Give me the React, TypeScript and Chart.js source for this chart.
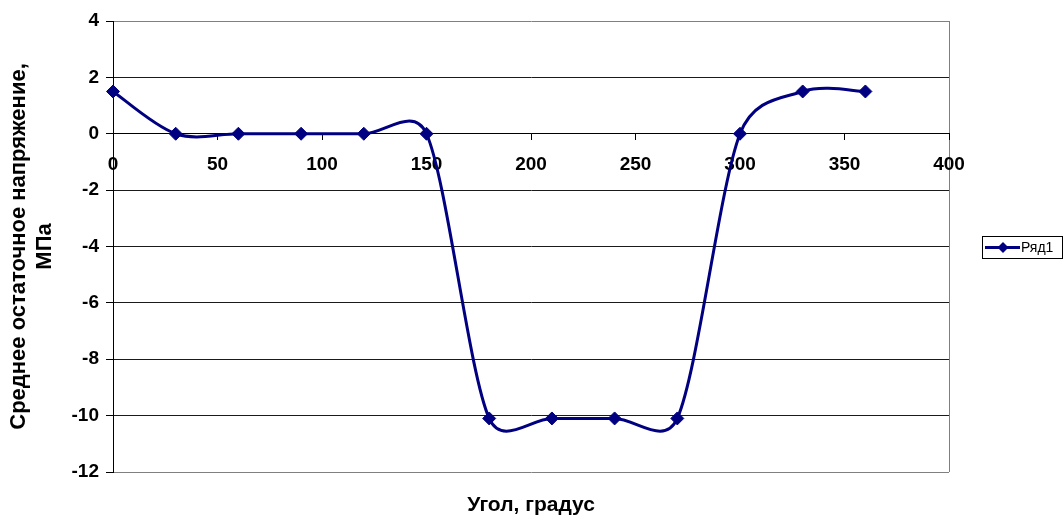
import React, { useEffect, useRef } from 'react';
import { Chart, registerables } from 'chart.js';

Chart.register(...registerables);

const angles = [0, 30, 60, 90, 120, 150, 180, 210, 240, 270, 300, 330, 360];
const stress = [1.5, 0, 0, 0, 0, 0, -10.1, -10.1, -10.1, -10.1, 0, 1.5, 1.5];
const seriesName = 'Ряд1';
const xTitle = 'Угол, градус';
const yTitle = ['Среднее остаточное напряжение,', 'МПа'];
const xRange = [0, 400];
const xStep = 50;
const yRange = [-12, 4];
const yStep = 2;

const FONT = "'Liberation Sans', Arial, sans-serif";
const NAVY = '#000080';

// Excel-style smoothing: Bezier control arms of 1/6 of the neighbour chord,
// limited to half of the adjacent segment length (computed on library pixels).
const excelSmoothPlugin = {
  id: 'excelSmooth',
  beforeDatasetDraw(chart: any, args: any) {
    const meta = args.meta;
    const pts = meta.data || [];
    const n = pts.length;
    for (let i = 0; i < n; i++) {
      const p = pts[i];
      const prev = pts[Math.max(i - 1, 0)];
      const next = pts[Math.min(i + 1, n - 1)];
      const dx = next.x - prev.x;
      const dy = next.y - prev.y;
      const d02 = Math.hypot(dx, dy);
      if (d02 === 0) {
        p.cp1x = p.x; p.cp1y = p.y; p.cp2x = p.x; p.cp2y = p.y;
        continue;
      }
      const dPrev = Math.hypot(p.x - prev.x, p.y - prev.y);
      const dNext = Math.hypot(next.x - p.x, next.y - p.y);
      const fIn = Math.min(1 / 6, dPrev / (2 * d02));
      const fOut = Math.min(1 / 6, dNext / (2 * d02));
      p.cp1x = p.x - dx * fIn;
      p.cp1y = p.y - dy * fIn;
      p.cp2x = p.x + dx * fOut;
      p.cp2y = p.y + dy * fOut;
    }
    if (meta.dataset) {
      meta.dataset._pointsUpdated = true;
      meta.dataset._path = undefined;
    }
  },
};

const legendPlugin = {
  id: 'excelLegend',
  afterDraw(chart: any) {
    const { ctx, chartArea } = chart;
    const left = Math.round(chartArea.right) + 33;
    const cy = Math.round((chartArea.top + chartArea.bottom) / 2);
    const w = 80;
    const h = 22;
    const top = cy - 11;
    ctx.save();
    ctx.strokeStyle = '#000';
    ctx.lineWidth = 1;
    ctx.strokeRect(left + 0.5, top + 0.5, w, h);
    ctx.strokeStyle = NAVY;
    ctx.lineWidth = 3;
    ctx.beginPath();
    ctx.moveTo(left + 3, cy + 0.5);
    ctx.lineTo(left + 38, cy + 0.5);
    ctx.stroke();
    const mx = left + 21;
    const r = 5.5;
    ctx.fillStyle = NAVY;
    ctx.beginPath();
    ctx.moveTo(mx - r, cy + 0.5);
    ctx.lineTo(mx, cy + 0.5 - r);
    ctx.lineTo(mx + r, cy + 0.5);
    ctx.lineTo(mx, cy + 0.5 + r);
    ctx.closePath();
    ctx.fill();
    ctx.fillStyle = '#000';
    ctx.font = `14px ${FONT}`;
    ctx.textBaseline = 'middle';
    ctx.textAlign = 'left';
    ctx.fillText(seriesName, left + 39, cy + 1);
    ctx.restore();
  },
};

export default function App() {
  const canvasRef = useRef<HTMLCanvasElement | null>(null);

  useEffect(() => {
    const canvas = canvasRef.current;
    if (!canvas) return;
    const chart = new Chart(canvas, {
      type: 'line',
      data: {
        datasets: [
          {
            label: seriesName,
            data: angles.map((a, i) => ({ x: a, y: stress[i] })),
            borderColor: NAVY,
            backgroundColor: NAVY,
            borderWidth: 3,
            pointStyle: 'rectRot',
            pointRadius: 6.5,
            pointBackgroundColor: NAVY,
            pointBorderColor: NAVY,
            pointBorderWidth: 1,
            tension: 0.4,
            fill: false,
            clip: false as any,
          },
        ],
      },
      options: {
        responsive: false,
        animation: false,
        layout: { padding: { left: 0, top: 21, right: 115, bottom: 0 } },
        plugins: {
          legend: { display: false },
          tooltip: { enabled: false },
          title: {
            display: true,
            position: 'bottom',
            fullSize: false,
            text: xTitle,
            color: '#000',
            font: { family: FONT, size: 21, weight: 'bold', lineHeight: 1.2 },
            padding: { top: 20.4, bottom: 5.4 },
          },
        },
        scales: {
          x: {
            type: 'linear',
            position: { y: 0 } as any,
            min: xRange[0],
            max: xRange[1],
            ticks: {
              stepSize: xStep,
              color: '#000',
              padding: 14,
              maxRotation: 0,
              font: { family: FONT, size: 19, weight: 'bold' },
            },
            grid: {
              color: (c: any) => (c.tick && c.tick.value === xRange[1] ? '#808080' : 'rgba(0,0,0,0)'),
              tickColor: '#000',
              tickLength: 6,
              lineWidth: 1,
            },
            border: { display: true, color: '#000', width: 1 },
          },
          y: {
            type: 'linear',
            position: 'left',
            min: yRange[0],
            max: yRange[1],
            afterFit: (s: any) => {
              s.width = 113;
            },
            ticks: {
              stepSize: yStep,
              color: '#000',
              padding: 7,
              font: { family: FONT, size: 19, weight: 'bold' },
            },
            grid: {
              color: (c: any) =>
                c.tick && (c.tick.value === yRange[1] || c.tick.value === yRange[0]) ? '#808080' : '#1a1a1a',
              tickColor: '#000',
              tickLength: 7,
              lineWidth: 1,
            },
            border: { display: true, color: '#000', width: 1 },
            title: {
              display: true,
              text: yTitle,
              color: '#000',
              font: { family: FONT, size: 22, weight: 'bold', lineHeight: 26 / 22 },
              padding: { top: 6, bottom: 0 },
            },
          },
        },
      },
      plugins: [excelSmoothPlugin, legendPlugin],
    });
    return () => chart.destroy();
  }, []);

  return (
    <div style={{ position: 'absolute', left: 0, top: 0, width: 1064, height: 523, background: '#fff' }}>
      <canvas ref={canvasRef} width={1064} height={523} />
    </div>
  );
}
